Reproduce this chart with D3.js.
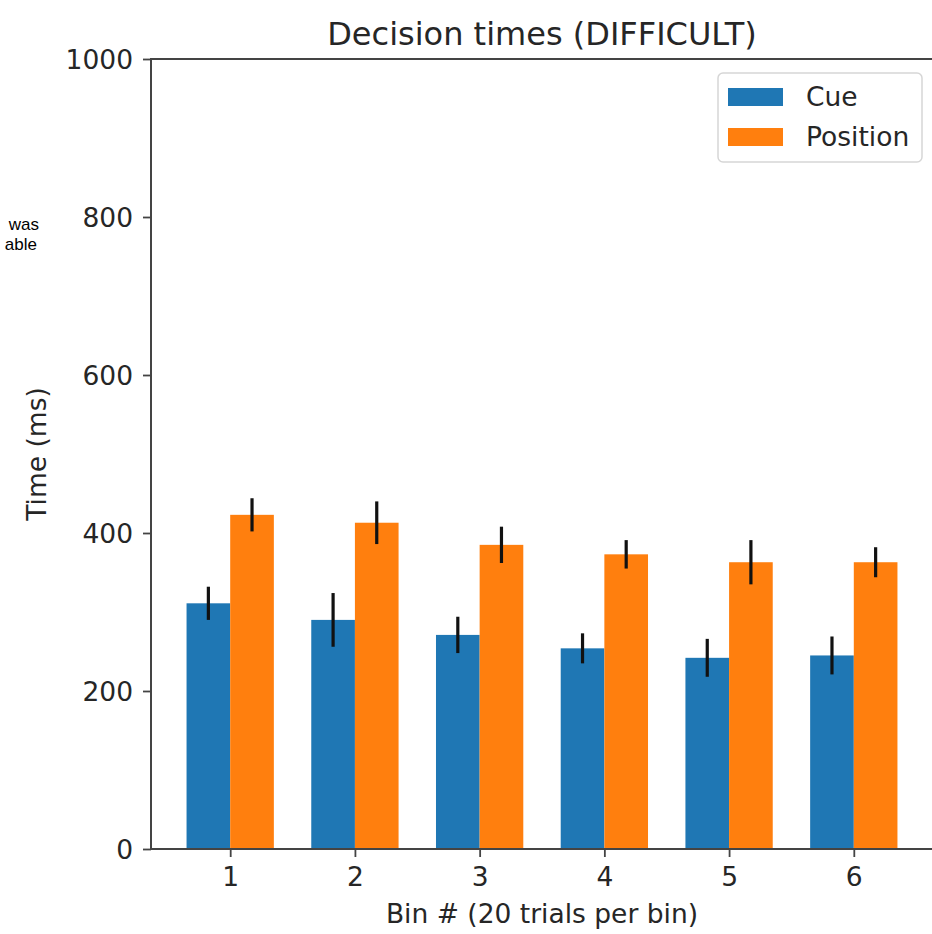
<!DOCTYPE html>
<html>
<head>
<meta charset="utf-8">
<script src="https://cdn.jsdelivr.net/npm/d3@7"></script>
<style>
  html, body { margin: 0; padding: 0; background: #fff; }
  svg { display: block; }
  .mpl { font-family: "DejaVu Sans", sans-serif; fill: #262626; }
  .frag { font-family: "Liberation Sans", Arial, sans-serif; fill: #000; }
</style>
</head>
<body>
<svg id="chart" width="932" height="934"></svg>
<script>
// ---- data ----
const bins = [1, 2, 3, 4, 5, 6];
const cueMeans = [311, 290, 271, 254, 242, 245];
const cueErr = [21, 34, 23, 19, 24, 24];
const positionMeans = [423, 413, 385, 373, 363, 363];
const positionErr = [21, 27, 23, 18, 28, 19];
const seriesNames = ["Cue", "Position"];
const yTicks = [0, 200, 400, 600, 800, 1000];
const titleText = "Decision times (DIFFICULT)";
const xLabelText = "Bin # (20 trials per bin)";
const yLabelText = "Time (ms)";
const sideFragments = ["was", "able"];

// ---- layout ----
const colors = ["#1f77b4", "#ff7f0e"];
const barW = 0.35;
const svg = d3.select("#chart");
const x = d3.scaleLinear().domain([0.365, 6.635]).range([151, 933]);
const y = d3.scaleLinear().domain([0, 1000]).range([849, 59]);

const series = [
  { name: seriesNames[0], means: cueMeans, errs: cueErr, offset: -barW, color: colors[0] },
  { name: seriesNames[1], means: positionMeans, errs: positionErr, offset: 0, color: colors[1] }
];

// bars
series.forEach(s => {
  svg.append("g").selectAll("rect").data(bins).join("rect")
    .attr("x", (d) => x(d + s.offset))
    .attr("width", x(barW) - x(0))
    .attr("y", (d, i) => y(s.means[i]))
    .attr("height", (d, i) => y(0) - y(s.means[i]))
    .attr("fill", s.color);
});
// error bars
series.forEach(s => {
  svg.append("g").selectAll("line").data(bins).join("line")
    .attr("x1", d => x(d + s.offset + barW / 2))
    .attr("x2", d => x(d + s.offset + barW / 2))
    .attr("y1", (d, i) => y(s.means[i] - s.errs[i]))
    .attr("y2", (d, i) => y(s.means[i] + s.errs[i]))
    .attr("stroke", "#111")
    .attr("stroke-width", 3.2);
});

// axes
const yAxis = d3.axisLeft(y).tickValues(yTicks).tickSize(8).tickPadding(10).tickFormat(d3.format("d"));
const gy = svg.append("g").attr("transform", `translate(${x.range()[0]},0)`).call(yAxis);
gy.select(".domain").remove();
gy.selectAll(".tick line").attr("stroke", "#444").attr("stroke-width", 1.8);
gy.selectAll(".tick text").attr("class", "mpl").attr("font-size", 26.5).attr("dy", "0.35em");

const xAxis = d3.axisBottom(x).tickValues(bins).tickSize(8).tickPadding(10).tickFormat(d3.format("d"));
const gx = svg.append("g").attr("transform", `translate(0,${y(0)})`).call(xAxis);
gx.select(".domain").remove();
gx.selectAll(".tick line").attr("stroke", "#444").attr("stroke-width", 1.8);
gx.selectAll(".tick text").attr("class", "mpl").attr("font-size", 26.5);

// spines
const [x0, x1] = x.range();
const [yb, yt] = y.range();
svg.append("rect").attr("x", x0).attr("y", yt).attr("width", x1 - x0).attr("height", yb - yt)
  .attr("fill", "none").attr("stroke", "#444").attr("stroke-width", 2);

// title & labels
svg.append("text").attr("class", "mpl").attr("x", (x0 + x1) / 2).attr("y", 45).attr("text-anchor", "middle")
  .attr("font-size", 32).text(titleText);
svg.append("text").attr("class", "mpl").attr("x", (x0 + x1) / 2).attr("y", 923).attr("text-anchor", "middle")
  .attr("font-size", 26.5).text(xLabelText);
svg.append("text").attr("class", "mpl").attr("transform", `translate(46,${(yb + yt) / 2}) rotate(-90)`)
  .attr("text-anchor", "middle").attr("font-size", 26.5).text(yLabelText);

// legend
const lg = svg.append("g");
lg.append("rect").attr("x", 718).attr("y", 73).attr("width", 204).attr("height", 89)
  .attr("rx", 5).attr("fill", "#fff").attr("fill-opacity", 0.8)
  .attr("stroke", "#d6d6d6").attr("stroke-width", 1.5);
series.forEach((s, i) => {
  lg.append("rect").attr("x", 728).attr("y", 88 + i * 40).attr("width", 55).attr("height", 18)
    .attr("fill", s.color);
  lg.append("text").attr("class", "mpl").attr("x", 806).attr("y", 97 + i * 40).attr("dy", "0.35em")
    .attr("font-size", 26.5).text(s.name);
});

// clipped text fragments at left edge
svg.append("text").attr("class", "frag").attr("x", 39).attr("y", 230).attr("text-anchor", "end")
  .attr("font-size", 17).text(sideFragments[0]);
svg.append("text").attr("class", "frag").attr("x", 37).attr("y", 250).attr("text-anchor", "end")
  .attr("font-size", 17).text(sideFragments[1]);
</script>
</body>
</html>
